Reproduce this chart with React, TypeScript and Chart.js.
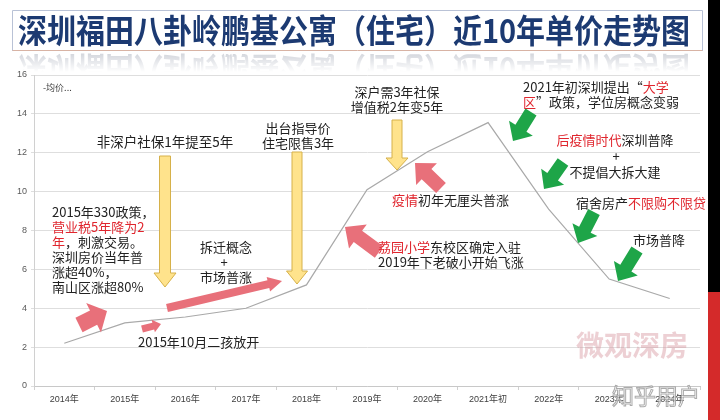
import { useEffect, useRef } from "react";
import { Chart, registerables } from "chart.js";

Chart.register(...registerables);

const categories = ["2014年", "2015年", "2016年", "2017年", "2018年", "2019年", "2020年", "2021年初", "2022年", "2023年", "2024年"];
const avgPrice = [2.2, 3.25, 3.55, 4.0, 5.2, 10.1, 12.05, 13.55, 9.1, 5.5, 4.5];
const seriesName = "均价";
const yMin = 0;
const yMax = 16;
const yStep = 2;
const titleText = "深圳福田八卦岭鹏基公寓（住宅）近10年单价走势图";

const CJK = '"Noto Sans CJK SC", "Noto Sans", sans-serif';
const RED = "#e0262e";
const BLACK = "#222222";
const PINK = "#e8707a";
const GREEN = "#1ea548";

type Seg = { t: string; c?: string };

function rich(ctx: CanvasRenderingContext2D, segs: Seg[], x: number, y: number, align: "left" | "center" | "right", size = 13) {
  ctx.font = `${size}px ${CJK}`;
  ctx.textBaseline = "middle";
  ctx.textAlign = "left";
  const total = segs.reduce((s, g) => s + ctx.measureText(g.t).width, 0);
  let cx = align === "left" ? x : align === "center" ? x - total / 2 : x - total;
  for (const g of segs) {
    ctx.fillStyle = g.c || BLACK;
    ctx.fillText(g.t, cx, y);
    cx += ctx.measureText(g.t).width;
  }
}

function blockArrow(
  ctx: CanvasRenderingContext2D,
  x1: number, y1: number, x2: number, y2: number,
  sw: number, hw: number, hl: number, fill: string, stroke?: string
) {
  const dx = x2 - x1, dy = y2 - y1;
  const len = Math.hypot(dx, dy);
  const ux = dx / len, uy = dy / len;
  const nx = -uy, ny = ux;
  const bx = x2 - ux * hl, by = y2 - uy * hl;
  ctx.beginPath();
  ctx.moveTo(x1 + nx * sw / 2, y1 + ny * sw / 2);
  ctx.lineTo(bx + nx * sw / 2, by + ny * sw / 2);
  ctx.lineTo(bx + nx * hw / 2, by + ny * hw / 2);
  ctx.lineTo(x2, y2);
  ctx.lineTo(bx - nx * hw / 2, by - ny * hw / 2);
  ctx.lineTo(bx - nx * sw / 2, by - ny * sw / 2);
  ctx.lineTo(x1 - nx * sw / 2, y1 - ny * sw / 2);
  ctx.closePath();
  ctx.fillStyle = fill;
  ctx.fill();
  if (stroke) {
    ctx.strokeStyle = stroke;
    ctx.lineWidth = 1;
    ctx.stroke();
  }
}

const decorPlugin = {
  id: "decor",
  beforeDraw(chart: any) {
    const ctx: CanvasRenderingContext2D = chart.ctx;
    ctx.save();
    ctx.fillStyle = "#ffffff";
    ctx.fillRect(0, 0, chart.width, chart.height);
    // right stripe
    ctx.fillStyle = "#000000";
    ctx.fillRect(708, 0, 12, 292);
    ctx.fillStyle = "#d42a2a";
    ctx.fillRect(708, 292, 12, 128);

    // title box
    ctx.fillStyle = "#ffffff";
    ctx.fillRect(12, 10, 690, 41);
    ctx.lineWidth = 1;
    ctx.strokeStyle = "#b9c2d6";
    ctx.beginPath();
    ctx.moveTo(12.5, 51);
    ctx.lineTo(12.5, 10.5);
    ctx.lineTo(702.5, 10.5);
    ctx.lineTo(702.5, 51);
    ctx.stroke();
    ctx.strokeStyle = "#d8b3a4";
    ctx.beginPath();
    ctx.moveTo(12.5, 50.5);
    ctx.lineTo(702.5, 50.5);
    ctx.stroke();

    // title text
    ctx.font = `bold 29px ${CJK}`;
    ctx.textAlign = "center";
    ctx.textBaseline = "middle";
    ctx.save();
    ctx.translate(354, 31);
    ctx.scale(1, 1.12);
    ctx.fillStyle = "#1c3a72";
    ctx.fillText(titleText, 0, 0);
    ctx.restore();

    // reflection
    ctx.save();
    ctx.beginPath();
    ctx.rect(12, 52, 690, 20);
    ctx.clip();
    ctx.translate(354, 100 - 31);
    ctx.scale(1, -1.12);
    ctx.fillStyle = "rgba(120,130,150,0.35)";
    ctx.fillText(titleText, 0, 0);
    ctx.restore();
    const g = ctx.createLinearGradient(0, 52, 0, 72);
    g.addColorStop(0, "rgba(255,255,255,0)");
    g.addColorStop(1, "rgba(255,255,255,1)");
    ctx.fillStyle = g;
    ctx.fillRect(12, 52, 690, 20);
    ctx.restore();
  },
  afterDraw(chart: any) {
    const ctx: CanvasRenderingContext2D = chart.ctx;
    ctx.save();

    // legend-like label
    ctx.font = `9px ${CJK}`;
    ctx.fillStyle = "#404040";
    ctx.textAlign = "left";
    ctx.textBaseline = "middle";
    ctx.fillText("-" + seriesName + "...", 43, 88);

    // watermark 微观深房
    ctx.font = `bold 28px ${CJK}`;
    ctx.textAlign = "center";
    ctx.fillStyle = "rgba(214,150,160,0.45)";
    ctx.fillText("微观深房", 632, 345);

    // yellow arrows
    const yFill = "#ffe38c", yStroke = "#d6b14a";
    blockArrow(ctx, 165, 156, 165, 287, 11, 22, 14, yFill, yStroke);
    blockArrow(ctx, 297, 152, 297, 284, 10, 21, 13, yFill, yStroke);
    blockArrow(ctx, 397, 120, 397, 170, 10, 22, 12, yFill, yStroke);

    // pink arrows
    blockArrow(ctx, 79, 325, 107, 311, 16, 33, 15, PINK);
    blockArrow(ctx, 142, 329, 161, 324, 7, 13, 8, PINK);
    blockArrow(ctx, 167, 308, 282, 281, 8, 15, 14, PINK);
    blockArrow(ctx, 441, 188, 415, 163, 14, 30, 16, PINK);
    blockArrow(ctx, 379, 252, 345, 227, 14, 30, 16, PINK);

    // green arrows
    blockArrow(ctx, 531, 112, 513, 141, 13, 28, 15, GREEN);
    blockArrow(ctx, 563, 162, 544, 189, 13, 28, 15, GREEN);
    blockArrow(ctx, 594, 212, 578, 243, 13, 28, 15, GREEN);
    blockArrow(ctx, 637, 250, 618, 281, 13, 28, 15, GREEN);

    // texts
    rich(ctx, [{ t: "非深户社保1年提至5年" }], 165, 142, "center", 13.5);
    rich(ctx, [{ t: "2015年330政策，" }], 52, 212, "left");
    rich(ctx, [{ t: "营业税5年降为2", c: RED }], 52, 227, "left");
    rich(ctx, [{ t: "年", c: RED }, { t: "，刺激交易。" }], 52, 242, "left");
    rich(ctx, [{ t: "深圳房价当年普" }], 52, 257, "left");
    rich(ctx, [{ t: "涨超40%，" }], 52, 272, "left");
    rich(ctx, [{ t: "南山区涨超80%" }], 52, 287, "left");
    rich(ctx, [{ t: "2015年10月二孩放开" }], 138, 342, "left");
    rich(ctx, [{ t: "拆迁概念" }], 226, 247, "center");
    rich(ctx, [{ t: "+" }], 224, 262, "center");
    rich(ctx, [{ t: "市场普涨" }], 226, 277, "center");
    rich(ctx, [{ t: "出台指导价" }], 298, 128, "center");
    rich(ctx, [{ t: "住宅限售3年" }], 298, 143, "center");
    rich(ctx, [{ t: "深户需3年社保" }], 397, 92, "center");
    rich(ctx, [{ t: "增值税2年变5年" }], 397, 107, "center");
    rich(ctx, [{ t: "疫情", c: RED }, { t: "初年无厘头普涨" }], 392, 200, "left");
    rich(ctx, [{ t: "荔园小学", c: RED }, { t: "东校区确定入驻" }], 378, 247, "left");
    rich(ctx, [{ t: "2019年下老破小开始飞涨" }], 378, 262, "left");
    rich(ctx, [{ t: "2021年初深圳提出“" }, { t: "大学", c: RED }], 523, 87, "left");
    rich(ctx, [{ t: "区", c: RED }, { t: "”政策，学位房概念变弱" }], 523, 102, "left");
    rich(ctx, [{ t: "后疫情时代", c: RED }, { t: "深圳普降" }], 615, 140, "center");
    rich(ctx, [{ t: "+" }], 616, 156, "center");
    rich(ctx, [{ t: "不提倡大拆大建" }], 615, 172, "center");
    rich(ctx, [{ t: "宿舍房产" }, { t: "不限购不限贷", c: RED }], 706, 203, "right");
    rich(ctx, [{ t: "市场普降" }], 659, 240, "center");

    // watermark 知乎用户
    ctx.font = `22px ${CJK}`;
    ctx.textAlign = "center";
    ctx.lineWidth = 1;
    ctx.strokeStyle = "rgba(150,150,150,0.8)";
    ctx.fillStyle = "rgba(255,255,255,0.6)";
    ctx.fillText("知乎用户", 656, 396);
    ctx.strokeText("知乎用户", 656, 396);
    ctx.restore();
  },
};

export default function App() {
  const ref = useRef<HTMLCanvasElement>(null);
  useEffect(() => {
    if (!ref.current) return;
    const chart = new Chart(ref.current, {
      type: "line",
      data: {
        labels: categories,
        datasets: [
          {
            label: seriesName,
            data: avgPrice,
            borderColor: "#a9a9a9",
            borderWidth: 1.2,
            pointRadius: 0,
            tension: 0,
            fill: false,
          },
        ],
      },
      options: {
        responsive: false,
        animation: false,
        layout: { padding: { top: 75, right: 20, left: 0, bottom: 0 } },
        plugins: { legend: { display: false }, tooltip: { enabled: false } },
        scales: {
          x: {
            offset: true,
            grid: { display: true, offset: true, drawOnChartArea: false, color: "#d0d0d0", tickLength: 4 },
            border: { color: "#c8c8c8" },
            ticks: { color: "#404040", font: { size: 9, family: "Liberation Sans, " + CJK }, padding: 4, maxRotation: 0, autoSkip: false },
            afterFit: (s: any) => { s.height = 34; },
          },
          y: {
            min: yMin,
            max: yMax,
            ticks: { stepSize: yStep, color: "#595959", font: { size: 9, family: "Liberation Sans, sans-serif" }, padding: 4 },
            grid: { color: "#dedede", tickLength: 3 },
            border: { color: "#d0d0d0" },
            afterFit: (s: any) => { s.width = 34; },
          },
        },
      },
      plugins: [decorPlugin],
    });
    return () => chart.destroy();
  }, []);
  return (
    <div style={{ position: "fixed", left: 0, top: 0, width: 720, height: 420, background: "#fff" }}>
      <canvas ref={ref} width={720} height={420} style={{ display: "block" }} />
    </div>
  );
}
